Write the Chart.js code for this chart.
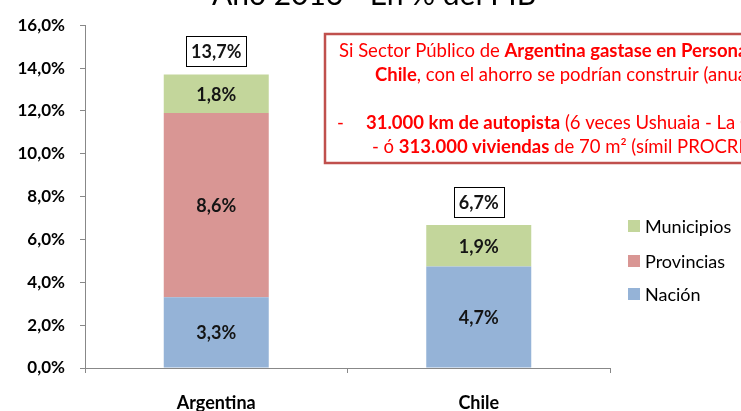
<!DOCTYPE html>
<html>
<head>
<meta charset="utf-8">
<script src="https://cdn.jsdelivr.net/npm/chart.js@4"></script>
<style>
  html, body { margin: 0; padding: 0; background: #fff; overflow: hidden; }
  #wrap { width: 741px; height: 411px; position: relative; }
</style>
</head>
<body>
<div id="wrap"><canvas id="chart" width="741" height="411"></canvas></div>
<script>
// datos (% del PIB, año 2016)
const categories   = ['Argentina', 'Chile'];
const nacion       = [3.3, 4.74];
const provincias   = [8.6, 0];
const municipios   = [1.8, 1.93];
const seriesNames  = ['Nación', 'Provincias', 'Municipios'];
const seriesColors = ['#95B3D7', '#D99694', '#C3D69B'];
const yTicksMax    = 16;
const yTicksStep   = 2;

const FONT = 'Lato, "Open Sans", sans-serif';

function fmt(v) {
  return v.toFixed(1).replace('.', ',') + '%';
}

// etiquetas de cada segmento + totales con recuadro
const labelPlugin = {
  id: 'labels',
  afterDatasetsDraw(chart) {
    const ctx = chart.ctx;
    ctx.save();
    ctx.font = 'bold 18px ' + FONT;
    ctx.textAlign = 'center';
    ctx.textBaseline = 'middle';
    ctx.fillStyle = '#141414';
    chart.data.datasets.forEach((ds, i) => {
      const meta = chart.getDatasetMeta(i);
      meta.data.forEach((bar, j) => {
        const v = ds.data[j];
        if (!v) return;
        ctx.fillText(fmt(v), bar.x, (bar.y + bar.base) / 2 + 1);
      });
    });

    categories.forEach((c, j) => {
      let total = 0, top = Infinity, x = 0;
      chart.data.datasets.forEach((ds, i) => {
        const v = ds.data[j];
        if (!v) return;
        total += v;
        const bar = chart.getDatasetMeta(i).data[j];
        top = Math.min(top, bar.y);
        x = bar.x;
      });
      const txt = fmt(total);
      const w = ctx.measureText(txt).width + 10;
      const h = 30;
      const y1 = top - 8 - h;
      ctx.fillStyle = '#fff';
      ctx.fillRect(x - w / 2, y1, w, h);
      ctx.strokeStyle = '#000';
      ctx.lineWidth = 1;
      ctx.strokeRect(Math.round(x - w / 2) + 0.5, Math.round(y1) + 0.5, Math.round(w), h);
      ctx.fillStyle = '#141414';
      ctx.fillText(txt, x, y1 + h / 2 + 1);
    });
    ctx.restore();
  }
};

// título (cortado arriba), leyenda y recuadro rojo
function richLine(ctx, x, y, runs) {
  runs.forEach(r => {
    ctx.font = (r.b ? 'bold ' : '') + '18.5px ' + FONT;
    ctx.fillText(r.t, x, y);
    x += ctx.measureText(r.t).width;
  });
}

const extrasPlugin = {
  id: 'extras',
  afterDraw(chart) {
    const ctx = chart.ctx;
    ctx.save();

    // título
    ctx.font = '30px ' + FONT;
    ctx.fillStyle = '#000';
    ctx.textAlign = 'center';
    ctx.textBaseline = 'alphabetic';
    ctx.fillText('Año 2016 - En % del PIB', 374, 5);

    // leyenda (orden inverso)
    ctx.textAlign = 'left';
    ctx.textBaseline = 'middle';
    ctx.font = '18px ' + FONT;
    const legendY = [294, 261, 226];
    seriesNames.forEach((n, i) => {
      ctx.fillStyle = seriesColors[i];
      ctx.fillRect(628, legendY[i] - 6, 12, 12);
      ctx.fillStyle = '#000';
      ctx.fillText(n, 645, legendY[i] + 1);
    });

    // recuadro
    ctx.fillStyle = '#fff';
    ctx.fillRect(325, 34, 430, 129);
    ctx.strokeStyle = '#C0504D';
    ctx.lineWidth = 2.5;
    ctx.strokeRect(325, 34, 430, 129);

    ctx.fillStyle = '#FF0000';
    ctx.textBaseline = 'middle';
    richLine(ctx, 339, 51, [
      { t: 'Si Sector Público de ' },
      { t: 'Argentina gastase en Personal lo mismo que', b: true }
    ]);
    richLine(ctx, 375, 75, [
      { t: 'Chile', b: true },
      { t: ', con el ahorro se podrían construir (anualmente):' }
    ]);
    richLine(ctx, 337, 123, [{ t: '-' }]);
    richLine(ctx, 366, 123, [
      { t: '31.000 km de autopista', b: true },
      { t: ' (6 veces Ushuaia - La Quiaca)' }
    ]);
    richLine(ctx, 372, 147, [
      { t: '- ó ' },
      { t: '313.000 viviendas', b: true },
      { t: ' de 70 m² (símil PROCREAR)' }
    ]);
    ctx.restore();
  }
};

const datasets = [nacion, provincias, municipios].map((d, i) => ({
  label: seriesNames[i],
  data: d,
  backgroundColor: seriesColors[i],
  borderWidth: 0,
  barPercentage: 0.4,
  categoryPercentage: 1
}));

new Chart(document.getElementById('chart'), {
  type: 'bar',
  data: { labels: categories, datasets },
  options: {
    responsive: false,
    animation: false,
    events: [],
    layout: { padding: { top: 24, right: 131, left: 0, bottom: 0 } },
    plugins: {
      legend: { display: false },
      tooltip: { enabled: false },
      title: { display: false }
    },
    scales: {
      x: {
        stacked: true,
        afterFit(s) { s.height = 43; },
        grid: { display: true, offset: true, drawOnChartArea: false, tickLength: 5, color: '#888' },
        border: { color: '#888', width: 1 },
        ticks: { color: '#000', font: { family: FONT, size: 18, weight: 'bold' }, padding: 19 }
      },
      y: {
        stacked: true,
        min: 0,
        max: yTicksMax,
        afterFit(s) { s.width = 85; },
        grid: { display: true, drawOnChartArea: false, tickLength: 5, color: '#888' },
        border: { color: '#888', width: 1 },
        ticks: {
          stepSize: yTicksStep,
          color: '#000',
          padding: 15,
          font: { family: FONT, size: 17, weight: 'bold' },
          callback: v => fmt(v)
        }
      }
    }
  },
  plugins: [labelPlugin, extrasPlugin]
});
</script>
</body>
</html>
